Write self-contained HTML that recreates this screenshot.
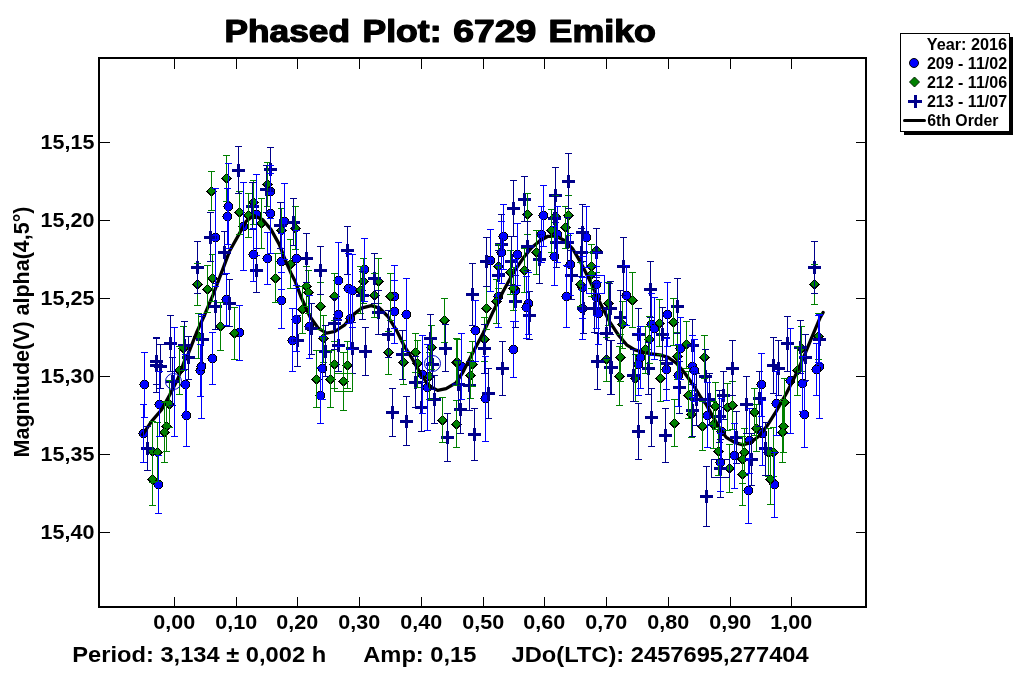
<!DOCTYPE html>
<html><head><meta charset="utf-8"><title>Phased Plot: 6729 Emiko</title>
<style>
html,body{margin:0;padding:0;background:#fff;}
body{width:1024px;height:675px;overflow:hidden;font-family:"Liberation Sans",sans-serif;}
svg{display:block;}
text{font-family:"Liberation Sans",sans-serif;font-weight:bold;fill:#000;}
.tk{stroke:#000;stroke-width:1;shape-rendering:crispEdges;}
.b{stroke:#0000ff;stroke-width:1;shape-rendering:crispEdges;}
.g{stroke:#008000;stroke-width:1;shape-rendering:crispEdges;}
.n{stroke:#00008b;stroke-width:1;shape-rendering:crispEdges;}
</style></head><body>
<svg width="1024" height="675" viewBox="0 0 1024 675">
<rect x="0" y="0" width="1024" height="675" fill="#fff"/>
<text x="224.5" y="42" font-size="30.5" textLength="125.5" lengthAdjust="spacingAndGlyphs" stroke="#000" stroke-width="1.2" stroke-linejoin="round">Phased</text>
<text x="362.5" y="42" font-size="30.5" textLength="79" lengthAdjust="spacingAndGlyphs" stroke="#000" stroke-width="1.2" stroke-linejoin="round">Plot:</text>
<text x="453.3" y="42" font-size="30.5" textLength="83" lengthAdjust="spacingAndGlyphs" stroke="#000" stroke-width="1.2" stroke-linejoin="round">6729</text>
<text x="548.5" y="42" font-size="30.5" textLength="107.5" lengthAdjust="spacingAndGlyphs" stroke="#000" stroke-width="1.2" stroke-linejoin="round">Emiko</text>
<g id="data">
<g fill="#0000ff" stroke="#000" stroke-width="1" shape-rendering="crispEdges"><circle cx="228.5" cy="206.5" r="4.5"/><circle cx="227.5" cy="216.5" r="4.5"/><circle cx="270.5" cy="191.5" r="4.5"/><circle cx="270.5" cy="213.5" r="4.5"/><circle cx="256.5" cy="214.5" r="4.5"/><circle cx="284.5" cy="221.5" r="4.5"/><circle cx="215.5" cy="237.5" r="4.5"/><circle cx="243.5" cy="226.5" r="4.5"/><circle cx="253.5" cy="254.5" r="4.5"/><circle cx="267.5" cy="258.5" r="4.5"/><circle cx="281.5" cy="261.5" r="4.5"/><circle cx="296.5" cy="258.5" r="4.5"/><circle cx="281.5" cy="300.5" r="4.5"/><circle cx="226.5" cy="299.5" r="4.5"/><circle cx="239.5" cy="332.5" r="4.5"/><circle cx="212.5" cy="358.5" r="4.5"/><circle cx="144.5" cy="384.5" r="4.5"/><circle cx="185.5" cy="384.5" r="4.5"/><circle cx="186.5" cy="415.5" r="4.5"/><circle cx="200.5" cy="370.5" r="4.5"/><circle cx="201.5" cy="366.5" r="4.5"/><circle cx="159.5" cy="404.5" r="4.5"/><circle cx="143.5" cy="433.5" r="4.5"/><circle cx="158.5" cy="484.5" r="4.5"/><circle cx="338.5" cy="280.5" r="4.5"/><circle cx="364.5" cy="269.5" r="4.5"/><circle cx="348.5" cy="288.5" r="4.5"/><circle cx="352.5" cy="290.5" r="4.5"/><circle cx="394.5" cy="296.5" r="4.5"/><circle cx="296.5" cy="319.5" r="4.5"/><circle cx="338.5" cy="314.5" r="4.5"/><circle cx="350.5" cy="318.5" r="4.5"/><circle cx="394.5" cy="311.5" r="4.5"/><circle cx="406.5" cy="314.5" r="4.5"/><circle cx="309.5" cy="326.5" r="4.5"/><circle cx="292.5" cy="340.5" r="4.5"/><circle cx="422.5" cy="374.5" r="4.5"/><circle cx="427.5" cy="387.5" r="4.5"/><circle cx="322.5" cy="368.5" r="4.5"/><circle cx="320.5" cy="395.5" r="4.5"/><circle cx="543.5" cy="215.5" r="4.5"/><circle cx="503.5" cy="236.5" r="4.5"/><circle cx="586.5" cy="237.5" r="4.5"/><circle cx="541.5" cy="234.5" r="4.5"/><circle cx="557.5" cy="234.5" r="4.5"/><circle cx="490.5" cy="260.5" r="4.5"/><circle cx="501.5" cy="252.5" r="4.5"/><circle cx="517.5" cy="254.5" r="4.5"/><circle cx="554.5" cy="256.5" r="4.5"/><circle cx="570.5" cy="264.5" r="4.5"/><circle cx="596.5" cy="284.5" r="4.5"/><circle cx="582.5" cy="287.5" r="4.5"/><circle cx="566.5" cy="296.5" r="4.5"/><circle cx="515.5" cy="290.5" r="4.5"/><circle cx="498.5" cy="296.5" r="4.5"/><circle cx="528.5" cy="303.5" r="4.5"/><circle cx="526.5" cy="307.5" r="4.5"/><circle cx="596.5" cy="297.5" r="4.5"/><circle cx="582.5" cy="308.5" r="4.5"/><circle cx="598.5" cy="313.5" r="4.5"/><circle cx="475.5" cy="330.5" r="4.5"/><circle cx="513.5" cy="349.5" r="4.5"/><circle cx="461.5" cy="366.5" r="4.5"/><circle cx="485.5" cy="398.5" r="4.5"/><circle cx="626.5" cy="295.5" r="4.5"/><circle cx="667.5" cy="314.5" r="4.5"/><circle cx="651.5" cy="324.5" r="4.5"/><circle cx="654.5" cy="328.5" r="4.5"/><circle cx="640.5" cy="357.5" r="4.5"/><circle cx="638.5" cy="364.5" r="4.5"/><circle cx="666.5" cy="369.5" r="4.5"/><circle cx="680.5" cy="348.5" r="4.5"/><circle cx="692.5" cy="366.5" r="4.5"/><circle cx="694.5" cy="370.5" r="4.5"/><circle cx="678.5" cy="375.5" r="4.5"/><circle cx="761.5" cy="384.5" r="4.5"/><circle cx="776.5" cy="403.5" r="4.5"/><circle cx="707.5" cy="415.5" r="4.5"/><circle cx="721.5" cy="431.5" r="4.5"/><circle cx="749.5" cy="440.5" r="4.5"/><circle cx="762.5" cy="433.5" r="4.5"/><circle cx="734.5" cy="455.5" r="4.5"/><circle cx="720.5" cy="462.5" r="4.5"/><circle cx="774.5" cy="484.5" r="4.5"/><circle cx="748.5" cy="490.5" r="4.5"/><circle cx="819.5" cy="366.5" r="4.5"/><circle cx="816.5" cy="369.5" r="4.5"/><circle cx="790.5" cy="380.5" r="4.5"/><circle cx="802.5" cy="383.5" r="4.5"/><circle cx="804.5" cy="414.5" r="4.5"/></g>
<g fill="#008000" stroke="#000" stroke-width="1" shape-rendering="crispEdges"><path d="M211.5 186.8l4.700 4.700l-4.700 4.700l-4.700 -4.700z"/><path d="M226.5 173.8l4.700 4.700l-4.700 4.700l-4.700 -4.700z"/><path d="M267.5 179.8l4.700 4.700l-4.700 4.700l-4.700 -4.700z"/><path d="M253.5 197.8l4.700 4.700l-4.700 4.700l-4.700 -4.700z"/><path d="M239.5 207.8l4.700 4.700l-4.700 4.700l-4.700 -4.700z"/><path d="M248.5 210.8l4.700 4.700l-4.700 4.700l-4.700 -4.700z"/><path d="M261.5 218.8l4.700 4.700l-4.700 4.700l-4.700 -4.700z"/><path d="M295.5 223.8l4.700 4.700l-4.700 4.700l-4.700 -4.700z"/><path d="M281.5 225.8l4.700 4.700l-4.700 4.700l-4.700 -4.700z"/><path d="M197.5 279.8l4.700 4.700l-4.700 4.700l-4.700 -4.700z"/><path d="M207.5 284.8l4.700 4.700l-4.700 4.700l-4.700 -4.700z"/><path d="M212.5 273.8l4.700 4.700l-4.700 4.700l-4.700 -4.700z"/><path d="M290.5 259.8l4.700 4.700l-4.700 4.700l-4.700 -4.700z"/><path d="M275.5 273.8l4.700 4.700l-4.700 4.700l-4.700 -4.700z"/><path d="M220.5 321.8l4.700 4.700l-4.700 4.700l-4.700 -4.700z"/><path d="M234.5 328.8l4.700 4.700l-4.700 4.700l-4.700 -4.700z"/><path d="M198.5 331.8l4.700 4.700l-4.700 4.700l-4.700 -4.700z"/><path d="M183.5 343.8l4.700 4.700l-4.700 4.700l-4.700 -4.700z"/><path d="M179.5 365.8l4.700 4.700l-4.700 4.700l-4.700 -4.700z"/><path d="M169.5 399.8l4.700 4.700l-4.700 4.700l-4.700 -4.700z"/><path d="M166.5 421.8l4.700 4.700l-4.700 4.700l-4.700 -4.700z"/><path d="M164.5 427.8l4.700 4.700l-4.700 4.700l-4.700 -4.700z"/><path d="M152.5 446.8l4.700 4.700l-4.700 4.700l-4.700 -4.700z"/><path d="M157.5 447.8l4.700 4.700l-4.700 4.700l-4.700 -4.700z"/><path d="M152.5 474.8l4.700 4.700l-4.700 4.700l-4.700 -4.700z"/><path d="M363.5 276.8l4.700 4.700l-4.700 4.700l-4.700 -4.700z"/><path d="M378.5 276.8l4.700 4.700l-4.700 4.700l-4.700 -4.700z"/><path d="M306.5 281.8l4.700 4.700l-4.700 4.700l-4.700 -4.700z"/><path d="M308.5 287.8l4.700 4.700l-4.700 4.700l-4.700 -4.700z"/><path d="M360.5 285.8l4.700 4.700l-4.700 4.700l-4.700 -4.700z"/><path d="M374.5 290.8l4.700 4.700l-4.700 4.700l-4.700 -4.700z"/><path d="M390.5 291.8l4.700 4.700l-4.700 4.700l-4.700 -4.700z"/><path d="M334.5 291.8l4.700 4.700l-4.700 4.700l-4.700 -4.700z"/><path d="M320.5 301.8l4.700 4.700l-4.700 4.700l-4.700 -4.700z"/><path d="M302.5 304.8l4.700 4.700l-4.700 4.700l-4.700 -4.700z"/><path d="M444.5 315.8l4.700 4.700l-4.700 4.700l-4.700 -4.700z"/><path d="M431.5 342.8l4.700 4.700l-4.700 4.700l-4.700 -4.700z"/><path d="M323.5 333.8l4.700 4.700l-4.700 4.700l-4.700 -4.700z"/><path d="M388.5 347.8l4.700 4.700l-4.700 4.700l-4.700 -4.700z"/><path d="M415.5 347.8l4.700 4.700l-4.700 4.700l-4.700 -4.700z"/><path d="M403.5 357.8l4.700 4.700l-4.700 4.700l-4.700 -4.700z"/><path d="M417.5 358.8l4.700 4.700l-4.700 4.700l-4.700 -4.700z"/><path d="M429.5 371.8l4.700 4.700l-4.700 4.700l-4.700 -4.700z"/><path d="M334.5 359.8l4.700 4.700l-4.700 4.700l-4.700 -4.700z"/><path d="M347.5 360.8l4.700 4.700l-4.700 4.700l-4.700 -4.700z"/><path d="M316.5 374.8l4.700 4.700l-4.700 4.700l-4.700 -4.700z"/><path d="M330.5 374.8l4.700 4.700l-4.700 4.700l-4.700 -4.700z"/><path d="M343.5 376.8l4.700 4.700l-4.700 4.700l-4.700 -4.700z"/><path d="M456.5 357.8l4.700 4.700l-4.700 4.700l-4.700 -4.700z"/><path d="M442.5 415.8l4.700 4.700l-4.700 4.700l-4.700 -4.700z"/><path d="M456.5 419.8l4.700 4.700l-4.700 4.700l-4.700 -4.700z"/><path d="M527.5 209.8l4.700 4.700l-4.700 4.700l-4.700 -4.700z"/><path d="M568.5 210.8l4.700 4.700l-4.700 4.700l-4.700 -4.700z"/><path d="M565.5 222.8l4.700 4.700l-4.700 4.700l-4.700 -4.700z"/><path d="M551.5 225.8l4.700 4.700l-4.700 4.700l-4.700 -4.700z"/><path d="M555.5 211.8l4.700 4.700l-4.700 4.700l-4.700 -4.700z"/><path d="M498.5 261.8l4.700 4.700l-4.700 4.700l-4.700 -4.700z"/><path d="M510.5 267.8l4.700 4.700l-4.700 4.700l-4.700 -4.700z"/><path d="M524.5 265.8l4.700 4.700l-4.700 4.700l-4.700 -4.700z"/><path d="M536.5 247.8l4.700 4.700l-4.700 4.700l-4.700 -4.700z"/><path d="M596.5 245.8l4.700 4.700l-4.700 4.700l-4.700 -4.700z"/><path d="M591.5 261.8l4.700 4.700l-4.700 4.700l-4.700 -4.700z"/><path d="M591.5 269.8l4.700 4.700l-4.700 4.700l-4.700 -4.700z"/><path d="M580.5 279.8l4.700 4.700l-4.700 4.700l-4.700 -4.700z"/><path d="M513.5 283.8l4.700 4.700l-4.700 4.700l-4.700 -4.700z"/><path d="M496.5 296.8l4.700 4.700l-4.700 4.700l-4.700 -4.700z"/><path d="M486.5 303.8l4.700 4.700l-4.700 4.700l-4.700 -4.700z"/><path d="M608.5 298.8l4.700 4.700l-4.700 4.700l-4.700 -4.700z"/><path d="M484.5 334.8l4.700 4.700l-4.700 4.700l-4.700 -4.700z"/><path d="M457.5 357.8l4.700 4.700l-4.700 4.700l-4.700 -4.700z"/><path d="M472.5 359.8l4.700 4.700l-4.700 4.700l-4.700 -4.700z"/><path d="M470.5 370.8l4.700 4.700l-4.700 4.700l-4.700 -4.700z"/><path d="M456.5 419.8l4.700 4.700l-4.700 4.700l-4.700 -4.700z"/><path d="M606.5 354.8l4.700 4.700l-4.700 4.700l-4.700 -4.700z"/><path d="M632.5 295.8l4.700 4.700l-4.700 4.700l-4.700 -4.700z"/><path d="M622.5 319.8l4.700 4.700l-4.700 4.700l-4.700 -4.700z"/><path d="M659.5 318.8l4.700 4.700l-4.700 4.700l-4.700 -4.700z"/><path d="M673.5 317.8l4.700 4.700l-4.700 4.700l-4.700 -4.700z"/><path d="M649.5 334.8l4.700 4.700l-4.700 4.700l-4.700 -4.700z"/><path d="M645.5 344.8l4.700 4.700l-4.700 4.700l-4.700 -4.700z"/><path d="M620.5 352.8l4.700 4.700l-4.700 4.700l-4.700 -4.700z"/><path d="M619.5 371.8l4.700 4.700l-4.700 4.700l-4.700 -4.700z"/><path d="M635.5 373.8l4.700 4.700l-4.700 4.700l-4.700 -4.700z"/><path d="M660.5 373.8l4.700 4.700l-4.700 4.700l-4.700 -4.700z"/><path d="M686.5 339.8l4.700 4.700l-4.700 4.700l-4.700 -4.700z"/><path d="M677.5 351.8l4.700 4.700l-4.700 4.700l-4.700 -4.700z"/><path d="M704.5 352.8l4.700 4.700l-4.700 4.700l-4.700 -4.700z"/><path d="M688.5 390.8l4.700 4.700l-4.700 4.700l-4.700 -4.700z"/><path d="M715.5 401.8l4.700 4.700l-4.700 4.700l-4.700 -4.700z"/><path d="M727.5 402.8l4.700 4.700l-4.700 4.700l-4.700 -4.700z"/><path d="M732.5 400.8l4.700 4.700l-4.700 4.700l-4.700 -4.700z"/><path d="M674.5 418.8l4.700 4.700l-4.700 4.700l-4.700 -4.700z"/><path d="M691.5 409.8l4.700 4.700l-4.700 4.700l-4.700 -4.700z"/><path d="M702.5 421.8l4.700 4.700l-4.700 4.700l-4.700 -4.700z"/><path d="M713.5 419.8l4.700 4.700l-4.700 4.700l-4.700 -4.700z"/><path d="M754.5 407.8l4.700 4.700l-4.700 4.700l-4.700 -4.700z"/><path d="M756.5 423.8l4.700 4.700l-4.700 4.700l-4.700 -4.700z"/><path d="M718.5 446.8l4.700 4.700l-4.700 4.700l-4.700 -4.700z"/><path d="M744.5 447.8l4.700 4.700l-4.700 4.700l-4.700 -4.700z"/><path d="M742.5 454.8l4.700 4.700l-4.700 4.700l-4.700 -4.700z"/><path d="M773.5 447.8l4.700 4.700l-4.700 4.700l-4.700 -4.700z"/><path d="M768.5 447.8l4.700 4.700l-4.700 4.700l-4.700 -4.700z"/><path d="M729.5 463.8l4.700 4.700l-4.700 4.700l-4.700 -4.700z"/><path d="M742.5 469.8l4.700 4.700l-4.700 4.700l-4.700 -4.700z"/><path d="M770.5 474.8l4.700 4.700l-4.700 4.700l-4.700 -4.700z"/><path d="M814.5 279.8l4.700 4.700l-4.700 4.700l-4.700 -4.700z"/><path d="M801.5 343.8l4.700 4.700l-4.700 4.700l-4.700 -4.700z"/><path d="M818.5 331.8l4.700 4.700l-4.700 4.700l-4.700 -4.700z"/><path d="M797.5 365.8l4.700 4.700l-4.700 4.700l-4.700 -4.700z"/><path d="M784.5 397.8l4.700 4.700l-4.700 4.700l-4.700 -4.700z"/><path d="M783.5 421.8l4.700 4.700l-4.700 4.700l-4.700 -4.700z"/><path d="M782.5 427.8l4.700 4.700l-4.700 4.700l-4.700 -4.700z"/></g>
<path d="M142.5 434.7 L151.6 421.4 L161.5 409.8 L169.8 394.8 L178.1 378.2 L184.8 360 L187.3 356.2 L196.4 333 L204.7 314.7 L213 294.8 L221.3 273.2 L229.6 251 L237.9 236.3 L246.2 221.3 L253.7 215.5 L262.8 219.7 L271.1 229.6 L279.4 244.6 L284.4 258 L291 273.2 L295 281 L301.6 298.3 L309.9 316.5 L318.2 328.1 L326.5 333.1 L334.8 331.5 L344.8 324.8 L353.1 314.9 L361.4 308.2 L371.3 305.7 L379.6 308.2 L387.9 316.5 L396.2 329.8 L404.5 346.4 L412.8 359.7 L421.1 374.6 L429.4 386.2 L437.7 390.4 L446.1 388.7 L456 382.9 L463 372 L473.2 352 L483.2 333 L493.2 311.4 L503.1 291.5 L513.1 273.2 L523 258.3 L531.3 248 L539.6 241 L547.9 236.3 L556.2 236.3 L564.5 240.5 L572.8 249 L581.1 263.2 L589.4 279.8 L599.4 301.4 L609.4 321.3 L618.3 334.9 L626.6 344.8 L634.9 349.8 L643.2 352.3 L651.5 354 L659.8 354.8 L668.1 357.3 L676.4 363.1 L684.7 373 L693 384.7 L701.3 398 L706.3 404.6 L712.9 416.6 L719.6 428.2 L726.2 437.4 L734.5 442.3 L742.8 444.8 L751.1 442.3 L759.4 435.7 L767.7 424.9 L776 411.6 L786.6 393 L794.9 376.4 L803.2 358.1 L811.5 338.2 L819.8 318.3 L823.1 312.5" fill="none" stroke="#000" stroke-width="3.3" stroke-linejoin="round" stroke-linecap="round"/>
<path d="M232.0 170.5h13M238.5 164.0v13M264.0 169.5h13M270.5 163.0v13M260.0 189.5h13M266.5 183.0v13M246.0 206.5h13M252.5 200.0v13M274.0 225.5h13M280.5 219.0v13M287.0 222.5h13M293.5 216.0v13M204.0 237.5h13M210.5 231.0v13M191.0 267.5h13M197.5 261.0v13M218.0 252.5h13M224.5 246.0v13M250.0 270.5h13M256.5 264.0v13M223.0 303.5h13M229.5 297.0v13M209.0 306.5h13M215.5 300.0v13M196.0 339.5h13M202.5 333.0v13M164.0 343.5h13M170.5 337.0v13M178.0 345.5h13M184.5 339.0v13M182.0 357.5h13M188.5 351.0v13M150.0 361.5h13M156.5 355.0v13M150.0 365.5h13M156.5 359.0v13M154.0 366.5h13M160.5 360.0v13M166.0 381.5h13M172.5 375.0v13M141.0 448.5h13M147.5 442.0v13M300.0 258.5h13M306.5 252.0v13M314.0 270.5h13M320.5 264.0v13M341.0 250.5h13M347.5 244.0v13M368.0 278.5h13M374.5 272.0v13M356.0 295.5h13M362.5 289.0v13M328.0 323.5h13M334.5 317.0v13M372.0 312.5h13M378.5 306.0v13M382.0 334.5h13M388.5 328.0v13M424.0 338.5h13M430.5 332.0v13M439.0 348.5h13M445.5 342.0v13M305.0 328.5h13M311.5 322.0v13M291.0 340.5h13M297.5 334.0v13M332.0 345.5h13M338.5 339.0v13M346.0 348.5h13M352.5 342.0v13M359.0 351.5h13M365.5 345.0v13M319.0 351.5h13M325.5 345.0v13M396.0 354.5h13M402.5 348.0v13M426.0 364.5h13M432.5 358.0v13M409.0 382.5h13M415.5 376.0v13M386.0 412.5h13M392.5 406.0v13M400.0 421.5h13M406.5 415.0v13M415.0 407.5h13M421.5 401.0v13M428.0 399.5h13M434.5 393.0v13M441.0 437.5h13M447.5 431.0v13M562.0 181.5h13M568.5 175.0v13M549.0 195.5h13M555.5 189.0v13M518.0 199.5h13M524.5 193.0v13M507.0 208.5h13M513.5 202.0v13M548.0 218.5h13M554.5 212.0v13M576.0 232.5h13M582.5 226.0v13M550.0 242.5h13M556.5 236.0v13M561.0 242.5h13M567.5 236.0v13M495.0 244.5h13M501.5 238.0v13M521.0 246.5h13M527.5 240.0v13M480.0 261.5h13M486.5 255.0v13M505.0 261.5h13M511.5 255.0v13M492.0 275.5h13M498.5 269.0v13M533.0 259.5h13M539.5 253.0v13M565.0 275.5h13M571.5 269.0v13M590.0 252.5h13M596.5 246.0v13M575.0 252.5h13M581.5 246.0v13M466.0 294.5h13M472.5 288.0v13M509.0 301.5h13M515.5 295.0v13M523.0 315.5h13M529.5 309.0v13M577.0 308.5h13M583.5 302.0v13M588.0 308.5h13M594.5 302.0v13M603.0 308.5h13M609.5 302.0v13M478.0 348.5h13M484.5 342.0v13M600.0 333.5h13M606.5 327.0v13M496.0 368.5h13M502.5 362.0v13M452.0 384.5h13M458.5 378.0v13M463.0 385.5h13M469.5 379.0v13M482.0 393.5h13M488.5 387.0v13M454.0 409.5h13M460.5 403.0v13M468.0 434.5h13M474.5 428.0v13M591.0 361.5h13M597.5 355.0v13M605.0 367.5h13M611.5 361.0v13M617.0 266.5h13M623.5 260.0v13M644.0 289.5h13M650.5 283.0v13M671.0 306.5h13M677.5 300.0v13M614.0 317.5h13M620.5 311.0v13M604.0 308.5h13M610.5 302.0v13M632.0 334.5h13M638.5 328.0v13M656.0 334.5h13M662.5 328.0v13M604.0 367.5h13M610.5 361.0v13M642.0 368.5h13M648.5 362.0v13M660.0 363.5h13M666.5 357.0v13M627.0 375.5h13M633.5 369.0v13M686.0 345.5h13M692.5 339.0v13M673.0 387.5h13M679.5 381.0v13M726.0 368.5h13M732.5 362.0v13M699.0 376.5h13M705.5 370.0v13M717.0 395.5h13M723.5 389.0v13M703.0 399.5h13M709.5 393.0v13M690.0 399.5h13M696.5 393.0v13M740.0 404.5h13M746.5 398.0v13M753.0 398.5h13M759.5 392.0v13M767.0 365.5h13M773.5 359.0v13M772.0 368.5h13M778.5 362.0v13M645.0 417.5h13M651.5 411.0v13M632.0 431.5h13M638.5 425.0v13M659.0 435.5h13M665.5 429.0v13M686.0 410.5h13M692.5 404.0v13M713.0 416.5h13M719.5 410.0v13M730.0 437.5h13M736.5 431.0v13M745.0 459.5h13M751.5 453.0v13M759.0 448.5h13M765.5 442.0v13M714.0 468.5h13M720.5 462.0v13M700.0 496.5h13M706.5 490.0v13M808.0 267.5h13M814.5 261.0v13M781.0 343.5h13M787.5 337.0v13M794.0 347.5h13M800.5 341.0v13M813.0 339.5h13M819.5 333.0v13M799.0 357.5h13M805.5 351.0v13" fill="none" stroke="#00008b" stroke-width="3" shape-rendering="crispEdges"/>
<path class="g" fill="none" d="M211.5 171V211M208.0 171.5h7M208.0 210.5h7M226.5 155V202M223.0 155.5h7M223.0 201.5h7M267.5 162V207M264.0 162.5h7M264.0 206.5h7M253.5 180V225M250.0 180.5h7M250.0 224.5h7M239.5 191V235M236.0 191.5h7M236.0 234.5h7M248.5 193V238M245.0 193.5h7M245.0 237.5h7M261.5 198V249M258.0 198.5h7M258.0 248.5h7M295.5 206V250M292.0 206.5h7M292.0 249.5h7M281.5 208V254M278.0 208.5h7M278.0 253.5h7M197.5 263V306M194.0 263.5h7M194.0 305.5h7M207.5 265V313M204.0 265.5h7M204.0 312.5h7M212.5 254V302M209.0 254.5h7M209.0 301.5h7M290.5 239V289M287.0 239.5h7M287.0 288.5h7M275.5 253V303M272.0 253.5h7M272.0 302.5h7M220.5 302V351M217.0 302.5h7M217.0 350.5h7M234.5 307V360M231.0 307.5h7M231.0 359.5h7M198.5 313V359M195.0 313.5h7M195.0 358.5h7M183.5 326V371M180.0 326.5h7M180.0 370.5h7M179.5 346V395M176.0 346.5h7M176.0 394.5h7M169.5 380V428M166.0 380.5h7M166.0 427.5h7M166.5 401V452M163.0 401.5h7M163.0 451.5h7M164.5 402V463M161.0 402.5h7M161.0 462.5h7M152.5 421V483M149.0 421.5h7M149.0 482.5h7M157.5 422V482M154.0 422.5h7M154.0 481.5h7M152.5 453V506M149.0 453.5h7M149.0 505.5h7M363.5 258V304M360.0 258.5h7M360.0 303.5h7M378.5 258V304M375.0 258.5h7M375.0 303.5h7M306.5 266V307M303.0 266.5h7M303.0 306.5h7M308.5 270V314M305.0 270.5h7M305.0 313.5h7M360.5 266V314M357.0 266.5h7M357.0 313.5h7M374.5 273V318M371.0 273.5h7M371.0 317.5h7M390.5 273V321M387.0 273.5h7M387.0 320.5h7M334.5 273V321M331.0 273.5h7M331.0 320.5h7M320.5 282V330M317.0 282.5h7M317.0 329.5h7M302.5 286V334M299.0 286.5h7M299.0 333.5h7M444.5 298V343M441.0 298.5h7M441.0 342.5h7M431.5 325V370M428.0 325.5h7M428.0 369.5h7M323.5 315V363M320.0 315.5h7M320.0 362.5h7M388.5 331V375M385.0 331.5h7M385.0 374.5h7M415.5 333V373M412.0 333.5h7M412.0 372.5h7M403.5 340V385M400.0 340.5h7M400.0 384.5h7M417.5 340V388M414.0 340.5h7M414.0 387.5h7M429.5 352V400M426.0 352.5h7M426.0 399.5h7M334.5 341V389M331.0 341.5h7M331.0 388.5h7M347.5 341V389M344.0 341.5h7M344.0 388.5h7M316.5 350V408M313.0 350.5h7M313.0 407.5h7M330.5 350V408M327.0 350.5h7M327.0 407.5h7M343.5 352V411M340.0 352.5h7M340.0 410.5h7M456.5 338V386M453.0 338.5h7M453.0 385.5h7M442.5 397V443M439.0 397.5h7M439.0 442.5h7M456.5 400V448M453.0 400.5h7M453.0 447.5h7M527.5 193V235M524.0 193.5h7M524.0 234.5h7M568.5 195V236M565.0 195.5h7M565.0 235.5h7M565.5 206V249M562.0 206.5h7M562.0 248.5h7M551.5 209V253M548.0 209.5h7M548.0 252.5h7M555.5 195V238M552.0 195.5h7M552.0 237.5h7M498.5 244V289M495.0 244.5h7M495.0 288.5h7M510.5 250V295M507.0 250.5h7M507.0 294.5h7M524.5 248V293M521.0 248.5h7M521.0 292.5h7M536.5 230V275M533.0 230.5h7M533.0 274.5h7M596.5 228V273M593.0 228.5h7M593.0 272.5h7M591.5 244V289M588.0 244.5h7M588.0 288.5h7M591.5 252V297M588.0 252.5h7M588.0 296.5h7M580.5 262V307M577.0 262.5h7M577.0 306.5h7M513.5 267V311M510.0 267.5h7M510.0 310.5h7M496.5 279V324M493.0 279.5h7M493.0 323.5h7M486.5 286V330M483.0 286.5h7M483.0 329.5h7M608.5 282V326M605.0 282.5h7M605.0 325.5h7M484.5 317V362M481.0 317.5h7M481.0 361.5h7M457.5 339V386M454.0 339.5h7M454.0 385.5h7M472.5 341V387M469.0 341.5h7M469.0 386.5h7M470.5 352V399M467.0 352.5h7M467.0 398.5h7M456.5 400V448M453.0 400.5h7M453.0 447.5h7M606.5 337V382M603.0 337.5h7M603.0 381.5h7M632.5 272V328M629.0 272.5h7M629.0 327.5h7M622.5 301V349M619.0 301.5h7M619.0 348.5h7M659.5 299V347M656.0 299.5h7M656.0 346.5h7M673.5 298V346M670.0 298.5h7M670.0 345.5h7M649.5 316V364M646.0 316.5h7M646.0 363.5h7M645.5 326V374M642.0 326.5h7M642.0 373.5h7M620.5 334V382M617.0 334.5h7M617.0 381.5h7M619.5 346V406M616.0 346.5h7M616.0 405.5h7M635.5 354V402M632.0 354.5h7M632.0 401.5h7M660.5 354V402M657.0 354.5h7M657.0 401.5h7M686.5 321V369M683.0 321.5h7M683.0 368.5h7M677.5 332V380M674.0 332.5h7M674.0 379.5h7M704.5 335V379M701.0 335.5h7M701.0 378.5h7M688.5 371V419M685.0 371.5h7M685.0 418.5h7M715.5 382V430M712.0 382.5h7M712.0 429.5h7M727.5 383V431M724.0 383.5h7M724.0 430.5h7M732.5 381V430M729.0 381.5h7M729.0 429.5h7M674.5 399V447M671.0 399.5h7M671.0 446.5h7M691.5 390V438M688.0 390.5h7M688.0 437.5h7M702.5 401V451M699.0 401.5h7M699.0 450.5h7M713.5 401V449M710.0 401.5h7M710.0 448.5h7M754.5 388V436M751.0 388.5h7M751.0 435.5h7M756.5 404V452M753.0 404.5h7M753.0 451.5h7M718.5 427V476M715.0 427.5h7M715.0 475.5h7M744.5 428V476M741.0 428.5h7M741.0 475.5h7M742.5 436V484M739.0 436.5h7M739.0 483.5h7M773.5 427V477M770.0 427.5h7M770.0 476.5h7M768.5 428V477M765.0 428.5h7M765.0 476.5h7M729.5 444V493M726.0 444.5h7M726.0 492.5h7M742.5 443V506M739.0 443.5h7M739.0 505.5h7M770.5 454V505M767.0 454.5h7M767.0 504.5h7M814.5 264V305M811.0 264.5h7M811.0 304.5h7M801.5 326V372M798.0 326.5h7M798.0 371.5h7M818.5 313V360M815.0 313.5h7M815.0 359.5h7M797.5 346V396M794.0 346.5h7M794.0 395.5h7M784.5 378V428M781.0 378.5h7M781.0 427.5h7M783.5 399V453M780.0 399.5h7M780.0 452.5h7M782.5 401V463M779.0 401.5h7M779.0 462.5h7"/>
<path class="n" fill="none" d="M238.5 146V194M235.0 146.5h7M235.0 193.5h7M270.5 147V192M267.0 147.5h7M267.0 191.5h7M266.5 165V213M263.0 165.5h7M263.0 212.5h7M252.5 182V230M249.0 182.5h7M249.0 229.5h7M280.5 202V249M277.0 202.5h7M277.0 248.5h7M293.5 198V246M290.0 198.5h7M290.0 245.5h7M210.5 212V262M207.0 212.5h7M207.0 261.5h7M197.5 241V294M194.0 241.5h7M194.0 293.5h7M224.5 231V275M221.0 231.5h7M221.0 274.5h7M256.5 248V293M253.0 248.5h7M253.0 292.5h7M229.5 279V327M226.0 279.5h7M226.0 326.5h7M215.5 283V330M212.0 283.5h7M212.0 329.5h7M202.5 316V364M199.0 316.5h7M199.0 363.5h7M170.5 315V372M167.0 315.5h7M167.0 371.5h7M184.5 321V370M181.0 321.5h7M181.0 369.5h7M188.5 336V380M185.0 336.5h7M185.0 379.5h7M156.5 337V385M153.0 337.5h7M153.0 384.5h7M156.5 338V393M153.0 338.5h7M153.0 392.5h7M160.5 344V389M157.0 344.5h7M157.0 388.5h7M172.5 357V406M169.0 357.5h7M169.0 405.5h7M147.5 426V471M144.0 426.5h7M144.0 470.5h7M306.5 233V283M303.0 233.5h7M303.0 282.5h7M320.5 246V295M317.0 246.5h7M317.0 294.5h7M347.5 226V275M344.0 226.5h7M344.0 274.5h7M374.5 253V304M371.0 253.5h7M371.0 303.5h7M362.5 271V320M359.0 271.5h7M359.0 319.5h7M334.5 298V350M331.0 298.5h7M331.0 349.5h7M378.5 290V335M375.0 290.5h7M375.0 334.5h7M388.5 310V358M385.0 310.5h7M385.0 357.5h7M430.5 314V363M427.0 314.5h7M427.0 362.5h7M445.5 324V372M442.0 324.5h7M442.0 371.5h7M311.5 303V355M308.0 303.5h7M308.0 354.5h7M297.5 315V367M294.0 315.5h7M294.0 366.5h7M338.5 320V372M335.0 320.5h7M335.0 371.5h7M352.5 322V374M349.0 322.5h7M349.0 373.5h7M365.5 327V376M362.0 327.5h7M362.0 375.5h7M325.5 325V377M322.0 325.5h7M322.0 376.5h7M402.5 330V380M399.0 330.5h7M399.0 379.5h7M432.5 338V390M429.0 338.5h7M429.0 389.5h7M415.5 356V408M412.0 356.5h7M412.0 407.5h7M392.5 388V437M389.0 388.5h7M389.0 436.5h7M406.5 396V446M403.0 396.5h7M403.0 445.5h7M421.5 382V432M418.0 382.5h7M418.0 431.5h7M434.5 375V424M431.0 375.5h7M431.0 423.5h7M447.5 413V462M444.0 413.5h7M444.0 461.5h7M568.5 153V209M565.0 153.5h7M565.0 208.5h7M555.5 167V223M552.0 167.5h7M552.0 222.5h7M524.5 176V222M521.0 176.5h7M521.0 221.5h7M513.5 180V237M510.0 180.5h7M510.0 236.5h7M554.5 194V244M551.0 194.5h7M551.0 243.5h7M582.5 204V262M579.0 204.5h7M579.0 261.5h7M556.5 218V268M553.0 218.5h7M553.0 267.5h7M567.5 217V267M564.0 217.5h7M564.0 266.5h7M501.5 214V274M498.0 214.5h7M498.0 273.5h7M527.5 221V271M524.0 221.5h7M524.0 270.5h7M486.5 237V287M483.0 237.5h7M483.0 286.5h7M511.5 236V286M508.0 236.5h7M508.0 285.5h7M498.5 250V300M495.0 250.5h7M495.0 299.5h7M539.5 234V284M536.0 234.5h7M536.0 283.5h7M571.5 250V300M568.0 250.5h7M568.0 299.5h7M596.5 228V278M593.0 228.5h7M593.0 277.5h7M581.5 228V277M578.0 228.5h7M578.0 276.5h7M472.5 263V326M469.0 263.5h7M469.0 325.5h7M515.5 275V328M512.0 275.5h7M512.0 327.5h7M529.5 291V340M526.0 291.5h7M526.0 339.5h7M583.5 284V334M580.0 284.5h7M580.0 333.5h7M594.5 283V333M591.0 283.5h7M591.0 332.5h7M609.5 283V333M606.0 283.5h7M606.0 332.5h7M484.5 324V374M481.0 324.5h7M481.0 373.5h7M606.5 309V359M603.0 309.5h7M603.0 358.5h7M502.5 341V396M499.0 341.5h7M499.0 395.5h7M458.5 360V409M455.0 360.5h7M455.0 408.5h7M469.5 361V411M466.0 361.5h7M466.0 410.5h7M488.5 368V419M485.0 368.5h7M485.0 418.5h7M460.5 384V434M457.0 384.5h7M457.0 433.5h7M474.5 408V461M471.0 408.5h7M471.0 460.5h7M597.5 333V390M594.0 333.5h7M594.0 389.5h7M611.5 340V395M608.0 340.5h7M608.0 394.5h7M623.5 237V296M620.0 237.5h7M620.0 295.5h7M650.5 261V318M647.0 261.5h7M647.0 317.5h7M677.5 278V334M674.0 278.5h7M674.0 333.5h7M620.5 290V344M617.0 290.5h7M617.0 343.5h7M610.5 281V335M607.0 281.5h7M607.0 334.5h7M638.5 308V361M635.0 308.5h7M635.0 360.5h7M662.5 307V361M659.0 307.5h7M659.0 360.5h7M610.5 340V395M607.0 340.5h7M607.0 394.5h7M648.5 342V395M645.0 342.5h7M645.0 394.5h7M666.5 337V390M663.0 337.5h7M663.0 389.5h7M633.5 349V402M630.0 349.5h7M630.0 401.5h7M692.5 319V372M689.0 319.5h7M689.0 371.5h7M679.5 361V414M676.0 361.5h7M676.0 413.5h7M732.5 340V396M729.0 340.5h7M729.0 395.5h7M705.5 349V403M702.0 349.5h7M702.0 402.5h7M723.5 371V420M720.0 371.5h7M720.0 419.5h7M709.5 373V426M706.0 373.5h7M706.0 425.5h7M696.5 373V426M693.0 373.5h7M693.0 425.5h7M746.5 376V434M743.0 376.5h7M743.0 433.5h7M759.5 371V427M756.0 371.5h7M756.0 426.5h7M773.5 337V394M770.0 337.5h7M770.0 393.5h7M778.5 340V396M775.0 340.5h7M775.0 395.5h7M651.5 388V447M648.0 388.5h7M648.0 446.5h7M638.5 403V460M635.0 403.5h7M635.0 459.5h7M665.5 408V463M662.0 408.5h7M662.0 462.5h7M692.5 384V437M689.0 384.5h7M689.0 436.5h7M719.5 390V443M716.0 390.5h7M716.0 442.5h7M736.5 411V464M733.0 411.5h7M733.0 463.5h7M751.5 433V486M748.0 433.5h7M748.0 485.5h7M765.5 422V476M762.0 422.5h7M762.0 475.5h7M720.5 439V498M717.0 439.5h7M717.0 497.5h7M706.5 466V527M703.0 466.5h7M703.0 526.5h7M814.5 241V294M811.0 241.5h7M811.0 293.5h7M787.5 316V372M784.0 316.5h7M784.0 371.5h7M800.5 320V374M797.0 320.5h7M797.0 373.5h7M819.5 315V364M816.0 315.5h7M816.0 363.5h7M805.5 334V381M802.0 334.5h7M802.0 380.5h7"/>
<path class="b" fill="none" d="M228.5 163V249M225.0 163.5h7M225.0 248.5h7M227.5 188V245M224.0 188.5h7M224.0 244.5h7M270.5 165V219M267.0 165.5h7M267.0 218.5h7M270.5 173V254M267.0 173.5h7M267.0 253.5h7M256.5 174V256M253.0 174.5h7M253.0 255.5h7M284.5 183V260M281.0 183.5h7M281.0 259.5h7M215.5 188V287M212.0 188.5h7M212.0 286.5h7M243.5 182V271M240.0 182.5h7M240.0 270.5h7M253.5 228V282M250.0 228.5h7M250.0 281.5h7M267.5 232V285M264.0 232.5h7M264.0 284.5h7M281.5 233V290M278.0 233.5h7M278.0 289.5h7M296.5 230V286M293.0 230.5h7M293.0 285.5h7M281.5 272V329M278.0 272.5h7M278.0 328.5h7M226.5 273V326M223.0 273.5h7M223.0 325.5h7M239.5 305V361M236.0 305.5h7M236.0 360.5h7M212.5 332V385M209.0 332.5h7M209.0 384.5h7M144.5 352V418M141.0 352.5h7M141.0 417.5h7M185.5 354V414M182.0 354.5h7M182.0 413.5h7M186.5 383V447M183.0 383.5h7M183.0 446.5h7M200.5 344V397M197.0 344.5h7M197.0 396.5h7M201.5 314V419M198.0 314.5h7M198.0 418.5h7M174.5 327V437M171.0 327.5h7M171.0 436.5h7M159.5 371V437M156.0 371.5h7M156.0 436.5h7M143.5 404V463M140.0 404.5h7M140.0 462.5h7M158.5 455V514M155.0 455.5h7M155.0 513.5h7M338.5 242V320M335.0 242.5h7M335.0 319.5h7M364.5 238V302M361.0 238.5h7M361.0 301.5h7M348.5 253V324M345.0 253.5h7M345.0 323.5h7M352.5 254V328M349.0 254.5h7M349.0 327.5h7M394.5 265V329M391.0 265.5h7M391.0 328.5h7M296.5 288V352M293.0 288.5h7M293.0 351.5h7M338.5 283V347M335.0 283.5h7M335.0 346.5h7M350.5 286V350M347.0 286.5h7M347.0 349.5h7M394.5 280V344M391.0 280.5h7M391.0 343.5h7M406.5 278V352M403.0 278.5h7M403.0 351.5h7M309.5 295V359M306.0 295.5h7M306.0 358.5h7M292.5 308V372M289.0 308.5h7M289.0 371.5h7M422.5 335V414M419.0 335.5h7M419.0 413.5h7M427.5 344V431M424.0 344.5h7M424.0 430.5h7M322.5 336V400M319.0 336.5h7M319.0 399.5h7M320.5 367V424M317.0 367.5h7M317.0 423.5h7M543.5 185V247M540.0 185.5h7M540.0 246.5h7M503.5 204V270M500.0 204.5h7M500.0 269.5h7M586.5 206V268M583.0 206.5h7M583.0 267.5h7M541.5 206V263M538.0 206.5h7M538.0 262.5h7M557.5 206V263M554.0 206.5h7M554.0 262.5h7M490.5 229V292M487.0 229.5h7M487.0 291.5h7M501.5 221V284M498.0 221.5h7M498.0 283.5h7M517.5 223V286M514.0 223.5h7M514.0 285.5h7M554.5 226V286M551.0 226.5h7M551.0 285.5h7M570.5 233V296M567.0 233.5h7M567.0 295.5h7M596.5 252V316M593.0 252.5h7M593.0 315.5h7M582.5 256V319M579.0 256.5h7M579.0 318.5h7M566.5 265V328M563.0 265.5h7M563.0 327.5h7M515.5 259V322M512.0 259.5h7M512.0 321.5h7M498.5 265V328M495.0 265.5h7M495.0 327.5h7M528.5 272V335M525.0 272.5h7M525.0 334.5h7M526.5 276V339M523.0 276.5h7M523.0 338.5h7M596.5 266V329M593.0 266.5h7M593.0 328.5h7M582.5 277V340M579.0 277.5h7M579.0 339.5h7M598.5 282V345M595.0 282.5h7M595.0 344.5h7M475.5 300V362M472.0 300.5h7M472.0 361.5h7M513.5 321V378M510.0 321.5h7M510.0 377.5h7M461.5 333V400M458.0 333.5h7M458.0 399.5h7M485.5 356V442M482.0 356.5h7M482.0 441.5h7M626.5 265V326M623.0 265.5h7M623.0 325.5h7M667.5 282V347M664.0 282.5h7M664.0 346.5h7M651.5 293V356M648.0 293.5h7M648.0 355.5h7M654.5 297V360M651.0 297.5h7M651.0 359.5h7M640.5 326V389M637.0 326.5h7M637.0 388.5h7M638.5 333V396M635.0 333.5h7M635.0 395.5h7M666.5 338V401M663.0 338.5h7M663.0 400.5h7M680.5 317V380M677.0 317.5h7M677.0 379.5h7M692.5 335V398M689.0 335.5h7M689.0 397.5h7M694.5 339V402M691.0 339.5h7M691.0 401.5h7M678.5 344V407M675.0 344.5h7M675.0 406.5h7M761.5 353V417M758.0 353.5h7M758.0 416.5h7M776.5 371V436M773.0 371.5h7M773.0 435.5h7M707.5 382V448M704.0 382.5h7M704.0 447.5h7M721.5 398V465M718.0 398.5h7M718.0 464.5h7M749.5 408V474M746.0 408.5h7M746.0 473.5h7M762.5 400V466M759.0 400.5h7M759.0 465.5h7M734.5 423V489M731.0 423.5h7M731.0 488.5h7M720.5 433V492M717.0 433.5h7M717.0 491.5h7M774.5 452V518M771.0 452.5h7M771.0 517.5h7M748.5 458V524M745.0 458.5h7M745.0 523.5h7M819.5 314V419M816.0 314.5h7M816.0 418.5h7M818.5 315V363M815.0 315.5h7M815.0 362.5h7M816.5 343V396M813.0 343.5h7M813.0 395.5h7M790.5 328V434M787.0 328.5h7M787.0 433.5h7M802.5 356V412M799.0 356.5h7M799.0 411.5h7M804.5 381V448M801.0 381.5h7M801.0 447.5h7"/>
<circle cx="173.5" cy="381.5" r="8" fill="none" stroke="#0000c0" stroke-width="1"/><circle cx="432.5" cy="363.5" r="8" fill="none" stroke="#0000c0" stroke-width="1"/><rect x="334.5" y="373.5" width="18" height="18" fill="none" stroke="#008000" stroke-width="1" shape-rendering="crispEdges"/><rect x="586.5" y="275.5" width="18" height="18" fill="none" stroke="#0000ff" stroke-width="1" shape-rendering="crispEdges"/><rect x="711.5" y="459.5" width="18" height="18" fill="none" stroke="#00008b" stroke-width="1" shape-rendering="crispEdges"/>
</g>
<rect x="99" y="58" width="767" height="549" fill="none" stroke="#000" stroke-width="2" shape-rendering="crispEdges"/>
<line class="tk" x1="174.5" y1="59" x2="174.5" y2="69"/><line class="tk" x1="174.5" y1="597" x2="174.5" y2="606"/>
<text x="174.3" y="629" font-size="21" text-anchor="middle" textLength="41.9" lengthAdjust="spacingAndGlyphs" xml:space="preserve">0,00</text>
<line class="tk" x1="236.5" y1="59" x2="236.5" y2="69"/><line class="tk" x1="236.5" y1="597" x2="236.5" y2="606"/>
<text x="236.3" y="629" font-size="21" text-anchor="middle" textLength="41.9" lengthAdjust="spacingAndGlyphs" xml:space="preserve">0,10</text>
<line class="tk" x1="297.5" y1="59" x2="297.5" y2="69"/><line class="tk" x1="297.5" y1="597" x2="297.5" y2="606"/>
<text x="297.3" y="629" font-size="21" text-anchor="middle" textLength="41.9" lengthAdjust="spacingAndGlyphs" xml:space="preserve">0,20</text>
<line class="tk" x1="359.5" y1="59" x2="359.5" y2="69"/><line class="tk" x1="359.5" y1="597" x2="359.5" y2="606"/>
<text x="359.3" y="629" font-size="21" text-anchor="middle" textLength="41.9" lengthAdjust="spacingAndGlyphs" xml:space="preserve">0,30</text>
<line class="tk" x1="421.5" y1="59" x2="421.5" y2="69"/><line class="tk" x1="421.5" y1="597" x2="421.5" y2="606"/>
<text x="421.3" y="629" font-size="21" text-anchor="middle" textLength="41.9" lengthAdjust="spacingAndGlyphs" xml:space="preserve">0,40</text>
<line class="tk" x1="483.5" y1="59" x2="483.5" y2="69"/><line class="tk" x1="483.5" y1="597" x2="483.5" y2="606"/>
<text x="483.3" y="629" font-size="21" text-anchor="middle" textLength="41.9" lengthAdjust="spacingAndGlyphs" xml:space="preserve">0,50</text>
<line class="tk" x1="544.5" y1="59" x2="544.5" y2="69"/><line class="tk" x1="544.5" y1="597" x2="544.5" y2="606"/>
<text x="544.3" y="629" font-size="21" text-anchor="middle" textLength="41.9" lengthAdjust="spacingAndGlyphs" xml:space="preserve">0,60</text>
<line class="tk" x1="606.5" y1="59" x2="606.5" y2="69"/><line class="tk" x1="606.5" y1="597" x2="606.5" y2="606"/>
<text x="606.3" y="629" font-size="21" text-anchor="middle" textLength="41.9" lengthAdjust="spacingAndGlyphs" xml:space="preserve">0,70</text>
<line class="tk" x1="668.5" y1="59" x2="668.5" y2="69"/><line class="tk" x1="668.5" y1="597" x2="668.5" y2="606"/>
<text x="668.3" y="629" font-size="21" text-anchor="middle" textLength="41.9" lengthAdjust="spacingAndGlyphs" xml:space="preserve">0,80</text>
<line class="tk" x1="730.5" y1="59" x2="730.5" y2="69"/><line class="tk" x1="730.5" y1="597" x2="730.5" y2="606"/>
<text x="730.3" y="629" font-size="21" text-anchor="middle" textLength="41.9" lengthAdjust="spacingAndGlyphs" xml:space="preserve">0,90</text>
<line class="tk" x1="791.5" y1="59" x2="791.5" y2="69"/><line class="tk" x1="791.5" y1="597" x2="791.5" y2="606"/>
<text x="791.3" y="629" font-size="21" text-anchor="middle" textLength="41.9" lengthAdjust="spacingAndGlyphs" xml:space="preserve">1,00</text>
<line class="tk" x1="100" y1="142.5" x2="110" y2="142.5"/><line class="tk" x1="856" y1="142.5" x2="865" y2="142.5"/>
<text x="94.4" y="149.0" font-size="21" text-anchor="end" textLength="53.8" lengthAdjust="spacingAndGlyphs" xml:space="preserve">15,15</text>
<line class="tk" x1="100" y1="220.5" x2="110" y2="220.5"/><line class="tk" x1="856" y1="220.5" x2="865" y2="220.5"/>
<text x="94.4" y="227.0" font-size="21" text-anchor="end" textLength="53.8" lengthAdjust="spacingAndGlyphs" xml:space="preserve">15,20</text>
<line class="tk" x1="100" y1="298.5" x2="110" y2="298.5"/><line class="tk" x1="856" y1="298.5" x2="865" y2="298.5"/>
<text x="94.4" y="305.0" font-size="21" text-anchor="end" textLength="53.8" lengthAdjust="spacingAndGlyphs" xml:space="preserve">15,25</text>
<line class="tk" x1="100" y1="376.5" x2="110" y2="376.5"/><line class="tk" x1="856" y1="376.5" x2="865" y2="376.5"/>
<text x="94.4" y="383.0" font-size="21" text-anchor="end" textLength="53.8" lengthAdjust="spacingAndGlyphs" xml:space="preserve">15,30</text>
<line class="tk" x1="100" y1="454.5" x2="110" y2="454.5"/><line class="tk" x1="856" y1="454.5" x2="865" y2="454.5"/>
<text x="94.4" y="461.0" font-size="21" text-anchor="end" textLength="53.8" lengthAdjust="spacingAndGlyphs" xml:space="preserve">15,35</text>
<line class="tk" x1="100" y1="532.5" x2="110" y2="532.5"/><line class="tk" x1="856" y1="532.5" x2="865" y2="532.5"/>
<text x="94.4" y="539.0" font-size="21" text-anchor="end" textLength="53.8" lengthAdjust="spacingAndGlyphs" xml:space="preserve">15,40</text>
<text x="0" y="0" font-size="22" text-anchor="middle" textLength="250.8" lengthAdjust="spacingAndGlyphs" xml:space="preserve" transform="translate(29,332) rotate(-90)">Magnitude(V) alpha(4,5°)</text>
<text x="72.2" y="662" font-size="22.6" text-anchor="start" textLength="254.0" lengthAdjust="spacingAndGlyphs" xml:space="preserve">Period: 3,134 ± 0,002 h</text>
<text x="363.2" y="662" font-size="22.6" text-anchor="start" textLength="113.3" lengthAdjust="spacingAndGlyphs" xml:space="preserve">Amp: 0,15</text>
<text x="511.5" y="662" font-size="22.6" text-anchor="start" textLength="297.2" lengthAdjust="spacingAndGlyphs" xml:space="preserve">JDo(LTC): 2457695,277404</text>
<g id="legend">
<rect x="904" y="37" width="109" height="98" fill="#000"/>
<rect x="900.5" y="33.5" width="109" height="98" fill="#fff" stroke="#000" stroke-width="1" shape-rendering="crispEdges"/>
<text x="1007.1" y="50" font-size="16" text-anchor="end" textLength="80.4" lengthAdjust="spacingAndGlyphs" xml:space="preserve">Year: 2016</text>
<circle cx="914" cy="63" r="4.5" fill="#0000ff" stroke="#000" stroke-width="1"/>
<text x="1007.1" y="69" font-size="16" text-anchor="end" textLength="80.2" lengthAdjust="spacingAndGlyphs" xml:space="preserve">209 - 11/02</text>
<path d="M914.5 77l5 5l-5 5l-5 -5z" fill="#008000" stroke="#002000" stroke-width="1"/>
<text x="1007.1" y="88" font-size="16" text-anchor="end" textLength="80.2" lengthAdjust="spacingAndGlyphs" xml:space="preserve">212 - 11/06</text>
<path d="M908 101.500h14M915 95v13" stroke="#00008b" stroke-width="3" fill="none" shape-rendering="crispEdges"/>
<text x="1007.1" y="107" font-size="16" text-anchor="end" textLength="80.2" lengthAdjust="spacingAndGlyphs" xml:space="preserve">213 - 11/07</text>
<line x1="904.5" y1="120.500" x2="924.5" y2="120.500" stroke="#000" stroke-width="3" stroke-linecap="round"/>
<text x="927.2" y="126" font-size="16" text-anchor="start" textLength="71.3" lengthAdjust="spacingAndGlyphs" xml:space="preserve">6th Order</text>
</g>
</svg></body></html>
